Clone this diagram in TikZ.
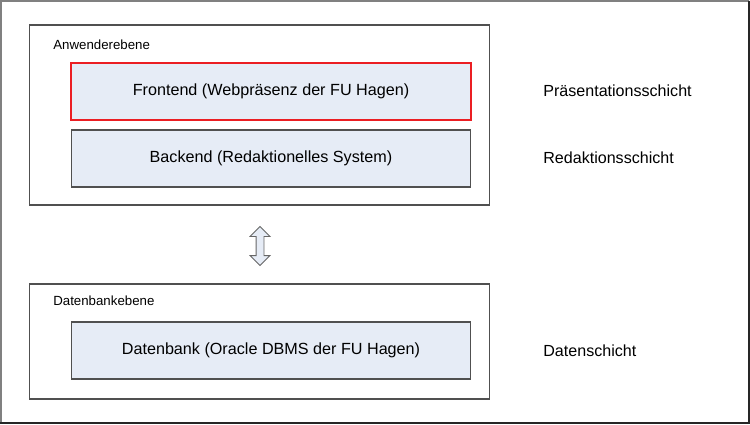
\documentclass[tikz,border=0pt]{standalone}
\usepackage{fontspec}
\setmainfont{Liberation Sans}
\usetikzlibrary{shapes.arrows}
\definecolor{boxfill}{RGB}{230,236,246}
\definecolor{boxline}{RGB}{80,80,80}
\definecolor{frontred}{RGB}{235,30,35}
\tikzset{
  layer/.style={draw=boxline, line width=0.6pt, fill=boxfill, minimum width=8cm, minimum height=1.14cm, inner sep=0pt, font=\fontsize{9.2}{11}\selectfont},
  level/.style={draw=boxline, line width=0.6pt, fill=white, minimum width=9.22cm, inner sep=0pt},
  levelname/.style={anchor=west, inner sep=0pt, font=\fontsize{7.55}{9}\selectfont},
  tiername/.style={anchor=west, inner sep=0pt, font=\fontsize{9.15}{11}\selectfont}
}
\begin{document}
\begin{tikzpicture}[x=0.02cm, y=-0.02cm]
\useasboundingbox (0,0) rectangle (750,424);

% outer frame
\draw[line width=1.2pt, gray] (0.5,423) -- (0.5,0.5) -- (749,0.5);
\draw[line width=1.2pt, black!85] (749,0.5) -- (749,423) -- (0.5,423);

% upper level
\node[level, minimum height=3.6cm] (user) at (259.5,115) {};
\node[levelname] (usertext) at (53,45) {Anwenderebene};
\node[layer, draw=frontred, line width=1.1pt] (front) at (271,91.5) {Frontend (Webpräsenz der FU Hagen)};
\node[layer] (back) at (271,158.5) {Backend (Redaktionelles System)};

% lower level
\node[level, minimum height=2.3cm] (db) at (259.5,341.5) {};
\node[levelname] (dbtext) at (53,301) {Datenbankebene};
\node[layer] (dbms) at (271,350.5) {Datenbank (Oracle DBMS der FU Hagen)};

% link between levels
\node[double arrow, rotate=90, draw=black!60, fill=boxfill, line width=0.5pt,
  minimum height=0.78cm, inner xsep=0pt, inner ysep=0.07cm,
  double arrow head extend=0.12cm] (link) at (260,246) {};

% tier names
\node[tiername] (pres) at (543,91) {Präsentationsschicht};
\node[tiername] (redak) at (543,158) {Redaktionsschicht};
\node[tiername] (data) at (543,351) {Datenschicht};
\end{tikzpicture}
\end{document}
